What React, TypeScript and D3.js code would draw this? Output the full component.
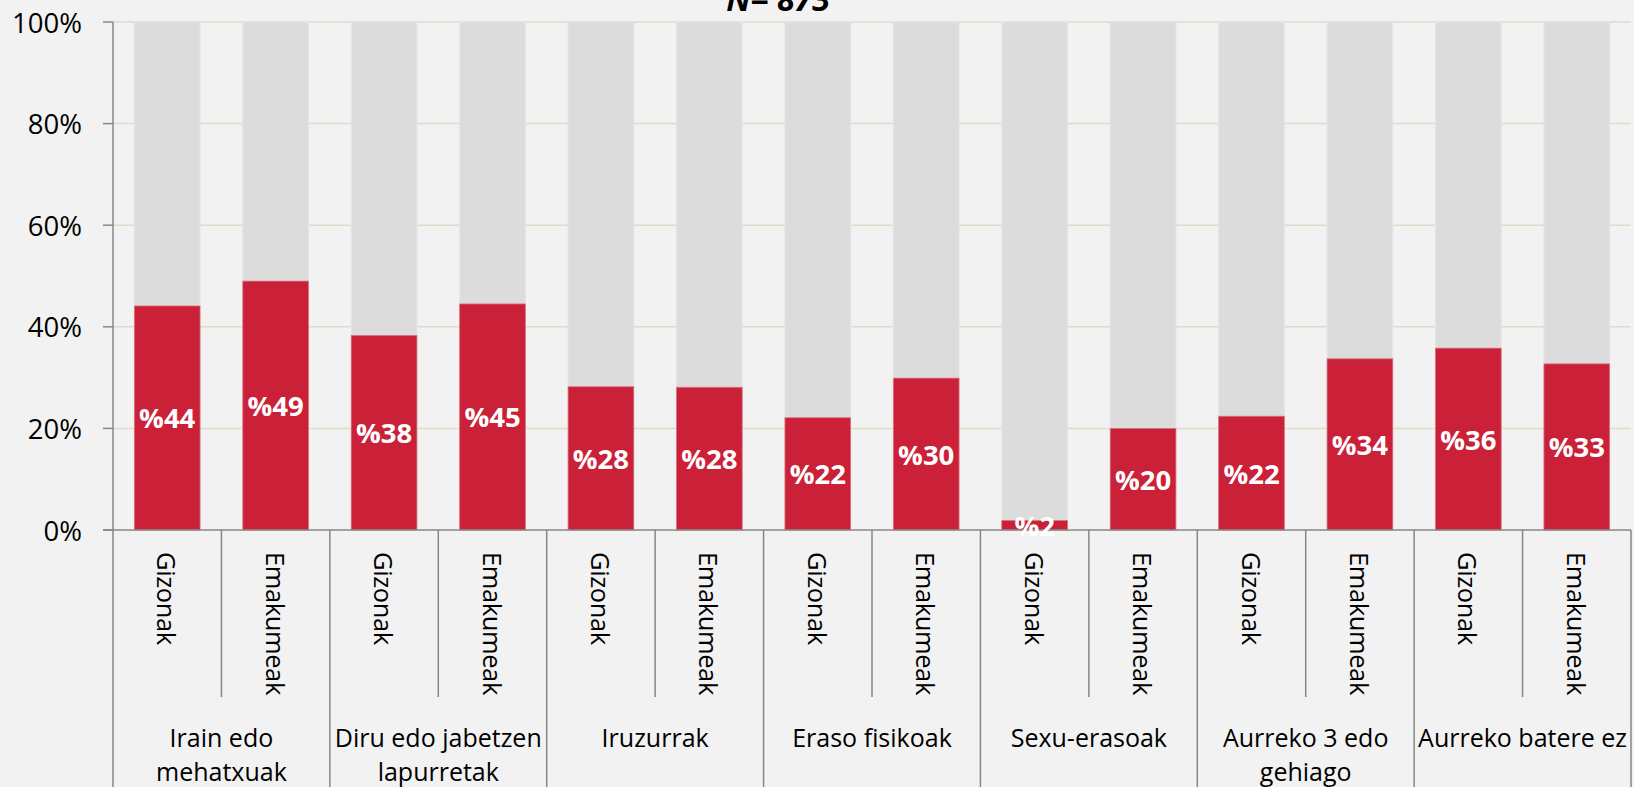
import React from "react";
import * as d3 from "d3";

const groupLabels: string[][] = [
  ["Irain edo", "mehatxuak"],
  ["Diru edo jabetzen", "lapurretak"],
  ["Iruzurrak"],
  ["Eraso fisikoak"],
  ["Sexu-erasoak"],
  ["Aurreko 3 edo", "gehiago"],
  ["Aurreko batere ez"],
];
const genders = ["Gizonak", "Emakumeak"];
const gizonak = [44.1, 38.3, 28.2, 22.1, 1.85, 22.4, 35.8];
const emakumeak = [49.0, 44.5, 28.1, 29.9, 20.0, 33.7, 32.7];
const yTicks = [0, 20, 40, 60, 80, 100];
const title = "N= 873";

const W = 1634;
const H = 787;
const X0 = 113;
const X1 = 1631;
const Y0 = 530;
const Y1 = 22;

const RED = "#CB2138";
const GREY = "#DCDCDC";
const BG = "#F2F2F2";
const GRID = "#DFDCC8";
const AXIS = "#878787";
const FONT = "'Open Sans', sans-serif";

type Bar = { key: string; group: number; gender: number; value: number };

const bars: Bar[] = [];
groupLabels.forEach((_, gi) => {
  bars.push({ key: `${gi}-0`, group: gi, gender: 0, value: gizonak[gi] });
  bars.push({ key: `${gi}-1`, group: gi, gender: 1, value: emakumeak[gi] });
});

export default function App() {
  const x = d3
    .scaleBand<string>()
    .domain(bars.map((b) => b.key))
    .range([X0, X1])
    .paddingInner(0.394)
    .paddingOuter(0.197);
  const y = d3.scaleLinear().domain([0, 100]).range([Y0, Y1]);
  const step = x.step();
  const slotLeft = (k: string) => (x(k) as number) - step * 0.394 / 2;

  return (
    <svg
      width={W}
      height={H}
      style={{ position: "absolute", left: 0, top: 0, background: BG }}
      fontFamily={FONT}
    >
      <rect x={0} y={0} width={W} height={H} fill={BG} />
      {/* gridlines */}
      {yTicks
        .filter((t) => t > 0)
        .map((t) => (
          <line key={t} x1={X0} x2={X1} y1={y(t)} y2={y(t)} stroke={GRID} strokeWidth={1.5} />
        ))}
      {/* bars */}
      {bars.map((b) => (
        <g key={b.key}>
          <rect
            x={x(b.key)}
            width={x.bandwidth()}
            y={y(100)}
            height={y(b.value) - y(100)}
            fill={GREY}
            stroke="#E6E6E6"
            strokeWidth={1}
          />
          <rect
            x={x(b.key)}
            width={x.bandwidth()}
            y={y(b.value)}
            height={y(0) - y(b.value)}
            fill={RED}
            stroke="#D9707E"
            strokeWidth={0.8}
          />
        </g>
      ))}
      {/* y axis */}
      <line x1={X0} x2={X0} y1={y(100)} y2={Y0} stroke={AXIS} strokeWidth={1.5} />
      {yTicks.map((t) => (
        <g key={t}>
          <line x1={X0 - 10} x2={X0} y1={y(t)} y2={y(t)} stroke={AXIS} strokeWidth={1.5} />
          <text
            x={82}
            y={y(t)}
            textAnchor="end"
            dominantBaseline="central"
            fontSize={27.5}
            fill="#000"
          >
            {t}%
          </text>
        </g>
      ))}
      {/* x axis */}
      <line x1={X0 - 10} x2={X1} y1={Y0} y2={Y0} stroke={AXIS} strokeWidth={1.5} />
      {bars.map((b) => {
        const left = slotLeft(b.key);
        const isGroupStart = b.gender === 0;
        return (
          <line
            key={`sep-${b.key}`}
            x1={left}
            x2={left}
            y1={Y0}
            y2={isGroupStart ? H : 697}
            stroke={AXIS}
            strokeWidth={1.5}
          />
        );
      })}
      <line x1={X1} x2={X1} y1={Y0} y2={H} stroke={AXIS} strokeWidth={1.5} />
      {/* rotated gender labels */}
      {bars.map((b) => {
        const cx = (x(b.key) as number) + x.bandwidth() / 2;
        return (
          <text
            key={`gl-${b.key}`}
            transform={`translate(${cx},552) rotate(90)`}
            textAnchor="start"
            dominantBaseline="central"
            fontSize={25.5}
            letterSpacing={-0.4}
            fill="#000"
          >
            {genders[b.gender]}
          </text>
        );
      })}
      {/* group labels */}
      {groupLabels.map((lines, gi) => {
        const k0 = `${gi}-0`;
        const left = slotLeft(k0);
        const cx = left + step;
        return (
          <text key={`grp-${gi}`} textAnchor="middle" fontSize={25} fill="#000">
            {lines.map((ln, li) => (
              <tspan key={li} x={cx} y={737 + li * 34} dominantBaseline="central">
                {ln}
              </tspan>
            ))}
          </text>
        );
      })}
      {/* value labels */}
      {bars.map((b) => {
        const cx = (x(b.key) as number) + x.bandwidth() / 2;
        const cy = (y(b.value) + y(0)) / 2;
        return (
          <text
            key={`vl-${b.key}`}
            x={cx}
            y={cy}
            textAnchor="middle"
            dominantBaseline="central"
            fontSize={27.5}
            fontWeight="bold"
            fill="#fff"
          >
            %{Math.round(b.value)}
          </text>
        );
      })}
      {/* title (mostly clipped at top, as in the reference) */}
      <text
        x={778}
        y={11}
        textAnchor="middle"
        fontSize={32}
        fontWeight="bold"
        fontStyle="italic"
        fill="#000"
      >
        {title}
      </text>
    </svg>
  );
}
